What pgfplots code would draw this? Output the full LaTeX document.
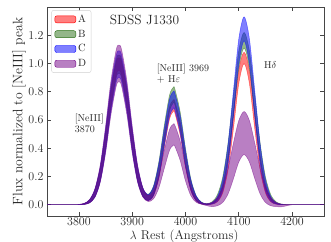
\documentclass[border=0pt]{standalone}
\usepackage{pgfplots}
\usepackage{pgfplotstable}
\pgfplotsset{compat=1.18}
\usepgfplotslibrary{fillbetween}
\definecolor{cA}{RGB}{255,0,0}
\definecolor{cB}{RGB}{40,110,20}
\definecolor{cC}{RGB}{0,0,255}
\definecolor{cD}{RGB}{115,0,135}
\definecolor{axc}{RGB}{70,70,70}
\pgfplotstableread{
x Alo Ahi Blo Bhi Clo Chi Dlo Dhi
3740 0 0 0 0 0 0 0 0
3770 0 0 0 0 0 0 0 0
3780 0 0 0 0 0 0 0 0
3790 0 0.0003 0 0.0003 0 0.0003 0 0.0003
3800 0.0004 0.0018 0.0004 0.0018 0.0004 0.0019 0.0004 0.0019
3810 0.0027 0.0086 0.0027 0.0088 0.0026 0.0091 0.0025 0.0094
3820 0.0144 0.0337 0.0141 0.0344 0.0136 0.0353 0.0132 0.0366
3830 0.0575 0.1047 0.0563 0.1067 0.0545 0.1098 0.0527 0.1138
3840 0.1741 0.2594 0.1705 0.2644 0.1650 0.2718 0.1595 0.2818
3850 0.3998 0.5120 0.3913 0.5218 0.3787 0.5366 0.3661 0.5563
3860 0.6957 0.8058 0.6810 0.8213 0.6591 0.8445 0.6371 0.8755
3870 0.9177 1.0110 0.8984 1.0304 0.8694 1.0596 0.8404 1.0985
3875 0.95 1.04 0.93 1.06 0.90 1.09 0.87 1.13
3880 0.9177 1.0110 0.8984 1.0304 0.8694 1.0596 0.8404 1.0985
3890 0.6957 0.8058 0.6810 0.8213 0.6591 0.8445 0.6371 0.8755
3900 0.3998 0.5122 0.3913 0.5220 0.3787 0.5368 0.3661 0.5565
3910 0.1744 0.2609 0.1708 0.2661 0.1653 0.2734 0.1597 0.2829
3920 0.0599 0.1129 0.0589 0.1159 0.0570 0.1187 0.0542 0.1201
3930 0.0288 0.0684 0.0299 0.0733 0.0285 0.0728 0.0224 0.0633
3940 0.0645 0.1197 0.0701 0.1335 0.0663 0.1293 0.0418 0.0950
3950 0.1874 0.2714 0.2044 0.3042 0.1930 0.2933 0.1194 0.2096
3960 0.4003 0.4962 0.4367 0.5565 0.4124 0.5364 0.2547 0.3823
3970 0.6063 0.6915 0.6615 0.7756 0.6247 0.7475 0.3859 0.5326
3977 0.66 0.74 0.72 0.83 0.68 0.80 0.42 0.57
3980 0.6498 0.7308 0.7089 0.8197 0.6695 0.7901 0.4135 0.5629
3990 0.4927 0.5856 0.5375 0.6568 0.5076 0.6330 0.3135 0.4510
4000 0.2643 0.3556 0.2883 0.3989 0.2723 0.3845 0.1682 0.2739
4010 0.1003 0.1638 0.1094 0.1837 0.1034 0.1770 0.0638 0.1261
4020 0.0269 0.0572 0.0294 0.0642 0.0277 0.0619 0.0171 0.0442
4030 0.0052 0.0155 0.0058 0.0179 0.0054 0.0167 0.0033 0.0125
4040 0.0012 0.0054 0.0021 0.0081 0.0013 0.0062 -0.0069 0.0065
4050 0.0040 0.0125 0.0076 0.0211 0.0046 0.0153 -0.0136 0.0164
4060 0.0211 0.0476 0.0347 0.0718 0.0245 0.0585 -0.0072 0.0499
4070 0.0847 0.1461 0.1210 0.1989 0.0982 0.1799 0.0163 0.1264
4080 0.2494 0.3507 0.3191 0.4397 0.2893 0.4319 0.0773 0.2604
4090 0.5394 0.6550 0.6379 0.7752 0.6257 0.8066 0.1846 0.4366
4100 0.8570 0.9531 0.9665 1.0892 0.9941 1.1737 0.3021 0.5952
4110 1.00 1.08 1.11 1.22 1.16 1.33 0.355 0.66
4120 0.8570 0.9531 0.9665 1.0892 0.9941 1.1737 0.3021 0.5952
4130 0.5394 0.6550 0.6379 0.7752 0.6257 0.8066 0.1846 0.4366
4140 0.2494 0.3507 0.3191 0.4397 0.2893 0.4319 0.0773 0.2604
4150 0.0847 0.1461 0.1210 0.1989 0.0982 0.1799 0.0163 0.1264
4160 0.0211 0.0475 0.0347 0.0717 0.0245 0.0584 -0.0072 0.0499
4170 0.0039 0.0120 0.0075 0.0206 0.0045 0.0148 -0.0136 0.0160
4180 0.0005 0.0024 0.0013 0.0047 0.0006 0.0029 -0.0148 0.0042
4190 0.0001 0.0004 0.0002 0.0009 0.0001 0.0004 -0.0075 0.0009
4200 0 0 0 0.0001 0 0.0001 0 0.0002
4210 0 0 0 0 0 0 0 0
4260 0 0 0 0 0 0 0 0
}\bands
\pgfplotsset{
 legA/.style={legend image code/.code={\fill[cA, fill opacity=0.5] (0pt,-3.5pt) rectangle (21pt,3.5pt);}},
 legB/.style={legend image code/.code={\fill[cB, fill opacity=0.5] (0pt,-3.5pt) rectangle (21pt,3.5pt);}},
 legC/.style={legend image code/.code={\fill[cC, fill opacity=0.5] (0pt,-3.5pt) rectangle (21pt,3.5pt);}},
 legD/.style={legend image code/.code={\fill[cD, fill opacity=0.5] (0pt,-3.5pt) rectangle (21pt,3.5pt);}},
}
\begin{document}
\begin{tikzpicture}
\begin{axis}[
 at={(0pt,0pt)}, anchor=south west,
 width=277pt, height=209pt, scale only axis,
 xmin=3740, xmax=4260, ymin=-0.08, ymax=1.4,
 xtick={3800,3900,4000,4100,4200},
 ytick={0,0.2,0.4,0.6,0.8,1.0,1.2},
 yticklabel style={/pgf/number format/fixed, /pgf/number format/fixed zerofill, /pgf/number format/precision=1},
 xticklabel style={/pgf/number format/1000 sep={}, yshift=1.5pt},
 tick label style={font=\fontsize{11.7}{13}\selectfont, text=black!85},
 tick align=inside, major tick length=4pt,
 axis line style={axc, line width=0.8pt},
 every tick/.style={axc, line width=0.7pt},
 ylabel={Flux normalized to [NeIII] peak},
 ylabel style={font=\fontsize{13.7}{15}\selectfont, text=black!85, at={(axis description cs:-0.101,0.5)}, anchor=center, inner sep=0pt},
 xlabel={$\lambda$ Rest (Angstroms)},
 xlabel style={font=\fontsize{12.8}{15}\selectfont, text=black!85, at={(axis description cs:0.495,0)}, anchor=north, inner sep=0pt, yshift=-13.5pt},
 legend style={at={(axis description cs:0.016,0.985)}, anchor=north west, draw=black!18, rounded corners=2pt, fill=white, font=\fontsize{10.5}{12}\selectfont, inner xsep=3pt, inner ysep=2.5pt, row sep=2pt, text=black!85},
 legend cell align=left,
]
\addlegendimage{legA}\addlegendentry{A}
\addlegendimage{legB}\addlegendentry{B}
\addlegendimage{legC}\addlegendentry{C}
\addlegendimage{legD}\addlegendentry{D}

\addplot[name path=Alo, draw=none, forget plot, smooth] table[x=x, y=Alo]{\bands};
\addplot[name path=Ahi, draw=none, forget plot, smooth] table[x=x, y=Ahi]{\bands};
\addplot[fill=cA, fill opacity=0.5, draw=cA, draw opacity=0.5, line width=0.5pt, forget plot] fill between[of=Ahi and Alo];

\addplot[name path=Blo, draw=none, forget plot, smooth] table[x=x, y=Blo]{\bands};
\addplot[name path=Bhi, draw=none, forget plot, smooth] table[x=x, y=Bhi]{\bands};
\addplot[fill=cB, fill opacity=0.5, draw=cB, draw opacity=0.5, line width=0.5pt, forget plot] fill between[of=Bhi and Blo];

\addplot[name path=Clo, draw=none, forget plot, smooth] table[x=x, y=Clo]{\bands};
\addplot[name path=Chi, draw=none, forget plot, smooth] table[x=x, y=Chi]{\bands};
\addplot[fill=cC, fill opacity=0.5, draw=cC, draw opacity=0.5, line width=0.5pt, forget plot] fill between[of=Chi and Clo];

\addplot[name path=Dlo, draw=none, forget plot, smooth] table[x=x, y=Dlo]{\bands};
\addplot[name path=Dhi, draw=none, forget plot, smooth] table[x=x, y=Dhi]{\bands};
\addplot[fill=cD, fill opacity=0.5, draw=cD, draw opacity=0.5, line width=0.5pt, forget plot] fill between[of=Dhi and Dlo];

\node[font=\fontsize{13.4}{15}\selectfont, text=black!85, anchor=center] at (axis cs:3923,1.306) {SDSS J1330};
\node[font=\fontsize{10}{11}\selectfont, text=black!85, anchor=north west, align=left, inner sep=0pt] at (axis cs:3946,0.995) {[NeIII] 3969\\+ H$\varepsilon$};
\node[font=\fontsize{10}{10.5}\selectfont, text=black!85, anchor=north west, align=left, inner sep=0pt] at (axis cs:3792,0.641) {[NeIII]\\3870};
\node[font=\fontsize{10}{11}\selectfont, text=black!85, anchor=west, inner sep=0pt] at (axis cs:4147,0.988) {H$\delta$};
\end{axis}
\pgfresetboundingbox
\path[use as bounding box] (-47pt,-25pt) rectangle (284pt,216pt);
\end{tikzpicture}
\end{document}
